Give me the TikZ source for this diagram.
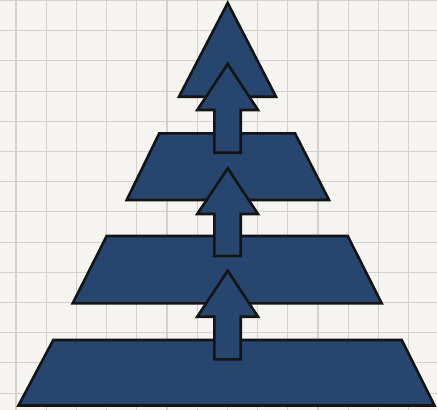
\documentclass[tikz,border=0pt]{standalone}
\begin{document}
\begin{tikzpicture}[x=1pt,y=-1pt,
  blueshp/.style={fill=blueshape,draw=black!92,line width=2.6pt,line join=miter},
  gridline/.style={draw=gridgray,line width=1.1pt}]
\definecolor{blueshape}{HTML}{27466F}
\definecolor{paper}{HTML}{F5F4F0}
\definecolor{gridgray}{HTML}{D2D1CC}
\useasboundingbox (0,0) rectangle (437,410);
\fill[paper] (0,0) rectangle (437,410);
% grid
\foreach \i in {0,...,14} {\draw[gridline] (16+\i*30.2,0) -- (16+\i*30.2,410);}
\foreach \j in {0,...,13} {\draw[gridline] (0,0.5+\j*30.2) -- (437,0.5+\j*30.2);}
% top triangle
\draw[blueshp] (227.7,3) -- (276,96.7) -- (179,96.7) -- cycle;
% trapezoids
\draw[blueshp] (159.3,133.3) -- (295,133.3) -- (329,200) -- (126.7,200) -- cycle;
\draw[blueshp] (106.7,236) -- (347.7,236) -- (381.7,303.3) -- (72.7,303.3) -- cycle;
\draw[blueshp] (53.3,340) -- (401.7,340) -- (434.5,405.5) -- (18.5,405.5) -- cycle;
% arrows
\foreach \t/\h/\b in {64/110/152.7, 168.3/214/256, 270.7/316.7/359.3} {
  \draw[blueshp] (227.7,\t) -- (258,\h) -- (240.7,\h) -- (240.7,\b) -- (214.3,\b) -- (214.3,\h) -- (197.3,\h) -- cycle;
}
\end{tikzpicture}
\end{document}
